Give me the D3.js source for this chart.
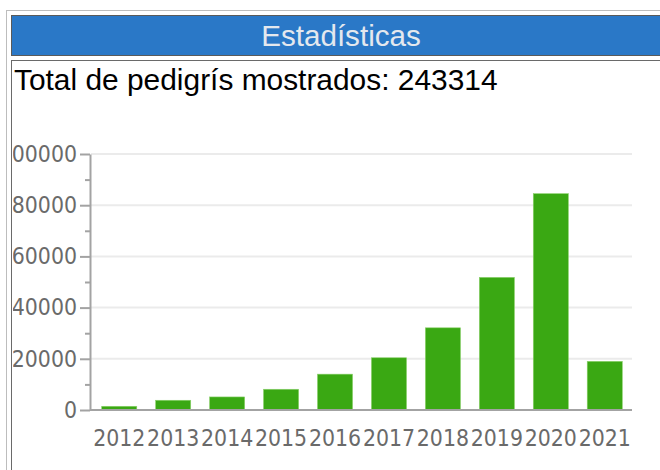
<!DOCTYPE html>
<html>
<head>
<meta charset="utf-8">
<script src="https://cdn.jsdelivr.net/npm/d3@7"></script>
<style>
  body { margin: 0; background: #fff; }
  .tick text { font-family: "DejaVu Sans Condensed", "DejaVu Sans", sans-serif; font-size: 22.8px; fill: #6a6a6a; }
</style>
</head>
<body>
<div id="chart_area"></div>
<script>
// Chart values.
var years = ["2012", "2013", "2014", "2015", "2016", "2017", "2018", "2019", "2020", "2021"];
var pedigrees = [1450, 3800, 5100, 8100, 14000, 20400, 32100, 51800, 84500, 19000];
var majorTicks = [0, 20000, 40000, 60000, 80000, 100000];
var minorTicks = [10000, 30000, 50000, 70000, 90000];
var panelTitle = "Estadísticas";
var totalLabel = "Total de pedigrís mostrados: 243314";

var frame = d3.select("#chart_area").append("svg")
	.attr("width", 660)
	.attr("height", 470);

// Page frame: outer box, blue header, content box.
frame.append("rect")
	.attr("x", 6.5).attr("y", 10.5)
	.attr("width", 720).attr("height", 520)
	.attr("fill", "#fff").attr("stroke", "#bdbdbd");

frame.append("rect")
	.attr("x", 11.5).attr("y", 15.5)
	.attr("width", 720).attr("height", 40)
	.attr("fill", "#2a78c7").attr("stroke", "#5a5a5a");

frame.append("text")
	.attr("x", 341).attr("y", 36)
	.attr("dy", "0.35em")
	.attr("text-anchor", "middle")
	.style("font-family", "'Liberation Sans', Arial, sans-serif")
	.style("font-size", "29.6px")
	.style("fill", "#e4e8ee")
	.text(panelTitle);

frame.append("rect")
	.attr("x", 11.5).attr("y", 60.5)
	.attr("width", 720).attr("height", 520)
	.attr("fill", "#fff").attr("stroke", "#6a6a6a");

frame.append("text")
	.attr("x", 14).attr("y", 90)
	.style("font-family", "'Liberation Sans', Arial, sans-serif")
	.style("font-size", "29.9px")
	.style("fill", "#000")
	.text(totalLabel);

// Chart area is clipped by the content box (cuts the y labels).
frame.append("clipPath").attr("id", "content_clip")
	.append("rect")
	.attr("x", 13).attr("y", 62)
	.attr("width", 700).attr("height", 500);

var canvas = frame.append("g").attr("clip-path", "url(#content_clip)");

var xScale = d3.scaleBand()
	.domain(years)
	.range([92, 632])
	.paddingInner(0.35)
	.paddingOuter(0.18);

var yScale = d3.scaleLinear().domain([0, 100000]).range([410, 154]);

// grid lines
canvas.append("g")
	.selectAll("line")
	.data(majorTicks.slice(1))
	.enter().append("line")
	.attr("x1", 91).attr("x2", 632)
	.attr("y1", function(d) { return yScale(d); })
	.attr("y2", function(d) { return yScale(d); })
	.attr("stroke", "#ebebeb")
	.attr("stroke-width", 2);

// bars
canvas.append("g")
	.selectAll(".bar")
	.data(pedigrees)
	.enter().append("rect")
	.attr("class", "bar")
	.attr("x", function(d, i) { return xScale(years[i]); })
	.attr("y", function(d) { return yScale(d); })
	.attr("width", xScale.bandwidth())
	.attr("height", function(d) { return yScale(0) - yScale(d); })
	.attr("fill", "#3aa813")
	.attr("stroke", "#8ad06a")
	.attr("stroke-width", 0.6);

// minor ticks (no labels)
canvas.append("g")
	.attr("transform", "translate(90,0)")
	.call(d3.axisLeft(yScale).tickValues(minorTicks).tickSize(5).tickFormat(""))
	.call(function(g) { g.select(".domain").remove(); })
	.selectAll("line").attr("stroke", "#a3a3a3").attr("stroke-width", 2);

// y axis
var yAxis = canvas.append("g")
	.attr("transform", "translate(90,0)")
	.call(d3.axisLeft(yScale).tickValues(majorTicks).tickSize(10).tickSizeOuter(0).tickPadding(3).tickFormat(d3.format("d")));
yAxis.select(".domain").attr("stroke", "#a3a3a3").attr("stroke-width", 2);
yAxis.selectAll(".tick line").attr("stroke", "#a3a3a3").attr("stroke-width", 2);

// x axis
var xAxis = canvas.append("g")
	.attr("transform", "translate(0,410)")
	.call(d3.axisBottom(xScale).tickSize(0).tickSizeOuter(0).tickPadding(19.5));
xAxis.select(".domain").remove();
xAxis.append("line")
	.attr("x1", 90).attr("x2", 632)
	.attr("stroke", "#a3a3a3").attr("stroke-width", 2);
</script>
</body>
</html>
